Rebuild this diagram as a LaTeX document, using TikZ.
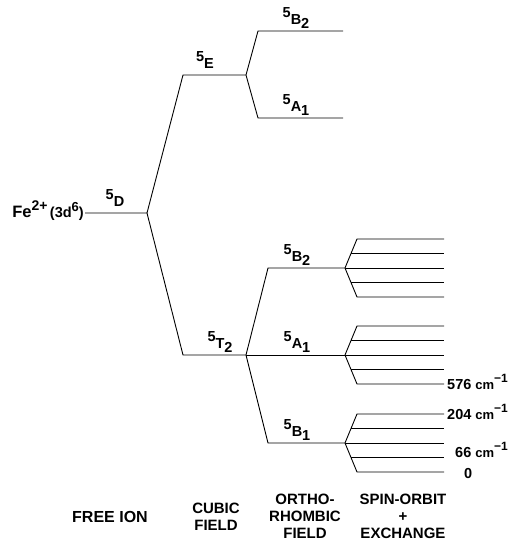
\documentclass[tikz,border=0pt]{standalone}
\usepackage{fontspec}
\setmainfont{Liberation Sans}
\newcommand\lvlab[3]{\raisebox{7pt}{#1}#2\raisebox{-4pt}{#3}}
\newcommand\wnum[1]{#1 {\fontsize{13}{15}\selectfont cm}\raisebox{6.5pt}{\fontsize{12}{14}\selectfont \char"2212 1}}
\begin{document}
\begin{tikzpicture}[x=1pt,y=-1pt,
  lvl/.style={line width=0.9pt},
  term/.style={inner sep=0pt,anchor=base,font=\fontsize{14.5}{17}\selectfont\bfseries},
  wn/.style={inner sep=0pt,anchor=base west,font=\fontsize{14.5}{17}\selectfont\bfseries},
  capt/.style={inner sep=0pt,align=center,font=\fontsize{15}{17}\selectfont\bfseries}]
\useasboundingbox (0,0) rectangle (515,550);

% free ion
\node[inner sep=0pt,anchor=base east,font=\bfseries] (fe) at (84,217)
  {{\fontsize{16.5}{18}\selectfont Fe}\raisebox{7pt}{\fontsize{14}{16}\selectfont 2+}{\fontsize{14.5}{16}\selectfont\,(3d\raisebox{6pt}{\fontsize{13}{15}\selectfont 6})}};
\coordinate (fi) at (85,213);
\coordinate (d0) at (147,213);

% cubic
\coordinate (e1) at (183,75);
\coordinate (e0) at (246,75);
\coordinate (t1) at (183,355);
\coordinate (t0) at (246,355);
\draw[lvl] (fi) -- (d0) -- (e1) -- (e0);
\draw[lvl] (d0) -- (t1) -- (t0);

% orthorhombic from E
\coordinate (eb1) at (258,31);
\coordinate (eb2) at (343,31);
\coordinate (ea1) at (258,118);
\coordinate (ea2) at (343,118);
\draw[lvl] (eb2) -- (eb1) -- (e0) -- (ea1) -- (ea2);

% orthorhombic from T2
\coordinate (tb1) at (268,268);
\coordinate (b0) at (345,268);
\coordinate (a0) at (345,355);
\coordinate (tc1) at (268,443);
\coordinate (c0) at (345,443);
\draw[lvl] (b0) -- (tb1) -- (t0) -- (tc1) -- (c0);
\draw[lvl] (t0) -- (a0);

% spin-orbit + exchange
\foreach \g/\m in {b/268,a/355,c/443}{
  \coordinate (\g1) at (357,\m-29);
  \coordinate (\g2) at (351,\m-14.5);
  \coordinate (\g4) at (351,\m+14.5);
  \coordinate (\g5) at (357,\m+29);
  \coordinate (\g1e) at (444,\m-29);
  \coordinate (\g2e) at (444,\m-14.5);
  \coordinate (\g3e) at (444,\m);
  \coordinate (\g4e) at (444,\m+14.5);
  \coordinate (\g5e) at (444,\m+29);
  \draw[lvl] (\g1e) -- (\g1) -- (\g0) -- (\g5) -- (\g5e);
  \draw[lvl] (\g2) -- (\g2e);
  \draw[lvl] (\g4) -- (\g4e);
  \draw[lvl] (\g0) -- (\g3e);
}

% term labels
\node[term] (ld) at (115,206) {\lvlab{5}{D}{}};
\node[term] (le) at (205,68) {\lvlab{5}{E}{}};
\node[term] (lt2) at (220,348) {\lvlab{5}{T}{2}};
\node[term] (lb2t) at (296,24) {\lvlab{5}{B}{2}};
\node[term] (la1t) at (296,111) {\lvlab{5}{A}{1}};
\node[term] (lb2) at (297,261) {\lvlab{5}{B}{2}};
\node[term] (la1) at (297,348) {\lvlab{5}{A}{1}};
\node[term] (lb1) at (297,436) {\lvlab{5}{B}{1}};

% wavenumbers
\node[wn] (n576) at (447,389) {\wnum{576}};
\node[wn] (n204) at (447,419) {\wnum{204}};
\node[wn] (n66) at (455,457) {\wnum{66}};
\node[wn] (n0) at (464,478) {0};

% column captions
\node[capt,font=\fontsize{16}{17}\selectfont\bfseries] (free) at (110,517) {FREE ION};
\node[capt] (cubic) at (216,517) {CUBIC\\FIELD};
\node[capt] (ortho) at (305,516) {ORTHO-\\RHOMBIC\\FIELD};
\node[capt] (spin) at (403,516) {SPIN-ORBIT\\+\\EXCHANGE};
\end{tikzpicture}
\end{document}
